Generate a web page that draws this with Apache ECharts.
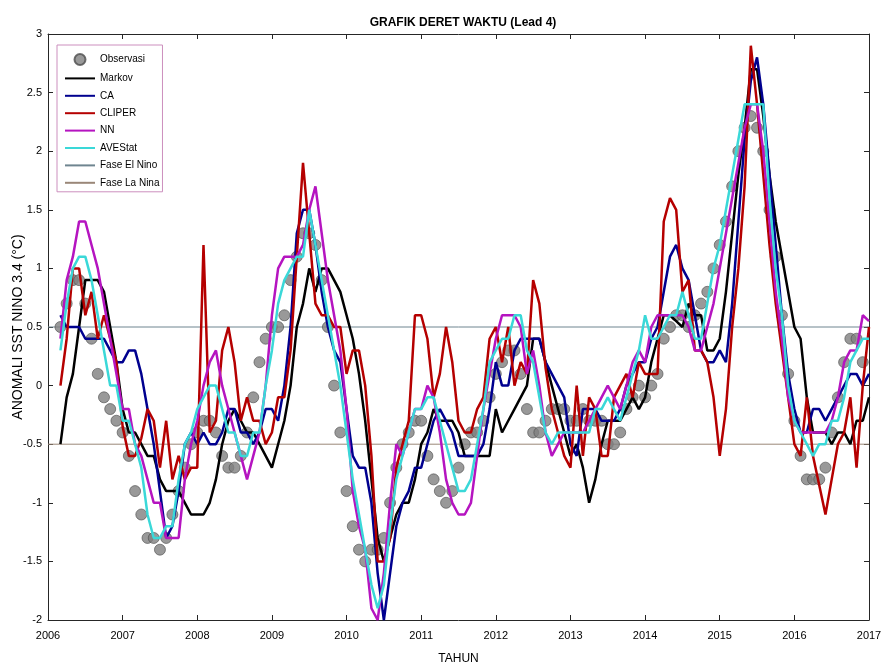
<!DOCTYPE html>
<html>
<head>
<meta charset="utf-8">
<script src="https://cdn.jsdelivr.net/npm/echarts@6/dist/echarts.min.js"></script>
<style>
html,body{margin:0;padding:0;background:#fff;}
#chart{width:881px;height:670px;}
</style>
</head>
<body>
<div id="chart"></div>
<script>
// Monthly series starting March 2006
const startYear = 2006;
const startMonth = 3;

const observasi = [
 0.5, 0.7, 0.9, 0.9, 0.7, 0.4, 0.1, -0.1, -0.2, -0.3,
 -0.4, -0.6, -0.9, -1.1, -1.3, -1.3, -1.4, -1.3, -1.1, -0.9,
 -0.7, -0.5, -0.4, -0.3, -0.3, -0.4, -0.6, -0.7, -0.7, -0.6,
 -0.4, -0.1, 0.2, 0.4, 0.5, 0.5, 0.6, 0.9, 1.1, 1.3,
 1.3, 1.2, 0.9, 0.5, 0.0, -0.4, -0.9, -1.2, -1.4, -1.5,
 -1.4, -1.4, -1.3, -1.0, -0.7, -0.5, -0.4, -0.3, -0.3, -0.6,
 -0.8, -0.9, -1.0, -0.9, -0.7, -0.5, -0.4, -0.4, -0.3, -0.1,
 0.1, 0.2, 0.3, 0.3, 0.1, -0.2, -0.4, -0.4, -0.3, -0.2,
 -0.2, -0.2, -0.3, -0.3, -0.2, -0.3, -0.3, -0.3, -0.5, -0.5,
 -0.4, -0.2, -0.1, 0.0, -0.1, 0.0, 0.1, 0.4, 0.5, 0.6,
 0.6, 0.5, 0.6, 0.7, 0.8, 1.0, 1.2, 1.4, 1.7, 2.0,
 2.2, 2.3, 2.2, 2.0, 1.5, 1.1, 0.6, 0.1, -0.3, -0.6,
 -0.8, -0.8, -0.8, -0.7, -0.4, -0.1, 0.2, 0.4, 0.4, 0.2,
 null
];

const markov = [
 -0.5, -0.1, 0.1, 0.5, 0.9, 0.9, 0.9, 0.8, 0.5, 0.2,
 -0.2, -0.4, -0.4, -0.5, -0.6, -0.6, -0.8, -0.9, -0.9, -0.9,
 -1.0, -1.1, -1.1, -1.1, -1.0, -0.8, -0.5, -0.3, -0.2, -0.3,
 -0.4, -0.4, -0.5, -0.6, -0.7, -0.5, -0.3, 0.0, 0.5, 0.7,
 1.0, 0.8, 1.0, 1.0, 0.9, 0.8, 0.6, 0.4, 0.1, -0.3,
 -0.8, -1.3, -1.5, -1.3, -1.1, -1.0, -1.0, -0.8, -0.5, -0.4,
 -0.2, -0.3, -0.3, -0.3, -0.4, -0.6, -0.6, -0.6, -0.6, -0.6,
 -0.2, -0.4, -0.3, -0.2, -0.1, 0.0, 0.4, 0.4, 0.2, 0.0,
 -0.2, -0.4, -0.6, -0.5, -0.7, -1.0, -0.8, -0.5, -0.3, -0.3,
 -0.3, -0.2, -0.1, -0.2, -0.1, 0.2, 0.4, 0.6, 0.6, 0.55,
 0.5, 0.7, 0.6, 0.6, 0.3, 0.3, 0.4, 0.8, 1.3, 1.8,
 2.2, 2.7, 2.7, 2.3, 1.8, 1.4, 1.1, 0.8, 0.5, 0.4,
 -0.1, -0.4, -0.4, -0.4, -0.5, -0.4, -0.4, -0.5, -0.3, -0.3,
 -0.1
];

const ca = [
 0.6, 0.5, 0.5, 0.5, 0.4, 0.4, 0.4, 0.4, 0.3, 0.2,
 0.2, 0.3, 0.3, 0.1, -0.2, -0.5, -0.9, -1.3, -1.2, -0.9,
 -0.5, -0.4, -0.5, -0.4, -0.5, -0.5, -0.4, -0.2, -0.2, -0.4,
 -0.4, -0.5, -0.4, -0.2, -0.2, -0.3, 0.0, 0.5, 1.3, 1.5,
 1.5, 1.2, 0.8, 0.5, 0.3, 0.2, -0.2, -0.6, -0.7, -0.7,
 -1.0, -1.6, -2.0, -1.6, -1.2, -1.0, -0.9, -0.7, -0.7, -0.5,
 -0.3, -0.2, -0.3, -0.4, -0.6, -0.6, -0.6, -0.6, -0.5, -0.2,
 0.2, 0.0, 0.0, 0.3, 0.4, 0.4, 0.4, 0.4, 0.2, 0.1,
 0.0, -0.1, -0.5, -0.6, -0.2, -0.2, -0.2, -0.3, -0.3, -0.3,
 -0.2, 0.0, 0.1, 0.2, 0.2, 0.4, 0.5, 0.8, 1.1, 1.2,
 1.0, 0.9, 0.6, 0.3, 0.2, 0.2, 0.3, 0.2, 0.7, 1.4,
 2.1, 2.6, 2.8, 2.4, 1.8, 1.2, 0.6, 0.1, -0.2, -0.4,
 -0.4, -0.2, -0.2, -0.3, -0.2, -0.1, 0.0, 0.1, 0.1, 0.0,
 0.1
];

const cliper = [
 0.0, 0.4, 1.0, 1.0, 0.6, 0.8, 0.4, 0.6, 0.4, 0.2,
 -0.35, -0.6, -0.6, -0.45, -0.2, -0.3, -0.7, -0.3, -0.8, -0.6,
 -0.8, -0.7, -0.7, 1.2, -0.4, -0.3, 0.3, 0.5, 0.2, -0.3,
 -0.1, -0.3, -0.3, -0.5, -0.4, -0.1, -0.1, 0.3, 1.1, 1.9,
 1.3, 0.7, 0.6, 0.6, 0.5, 0.5, 0.1, 0.3, 0.3, 0.0,
 -0.6, -1.5, -1.5, -1.3, -0.7, -0.5, -0.3, 0.6, 0.6, 0.4,
 -0.1, 0.1, 0.5, 0.2, -0.3, -0.4, -0.4, -0.2, -0.1, 0.4,
 0.5, 0.2, 0.5, 0.0, 0.2, 0.1, 0.9, 0.7, 0.15, -0.2,
 -0.4, -0.6, -0.7, 0.0, -0.6, -0.1, -0.2, -0.6, -0.6, -0.1,
 0.0, 0.1, -0.1, 0.2, 0.1, 0.1, 0.1, 1.4, 1.6, 1.5,
 0.8, 0.9, 0.3, 0.3, 0.2, -0.1, -0.6, -0.2, 0.5, 1.0,
 1.7, 2.9, 2.4, 1.8, 1.2, 0.7, 0.3, -0.1, -0.5, -0.6,
 -0.1, -0.6, -0.85, -1.1, -0.8, -0.5, -0.4, -0.1, -0.7, 0.0,
 0.5
];

const nn = [
 0.4, 0.9, 1.1, 1.4, 1.4, 1.2, 1.0, 0.7, 0.4, 0.1,
 -0.2, -0.2, -0.5, -0.6, -0.8, -1.0, -1.0, -1.3, -1.3, -1.3,
 -0.8, -0.5, -0.3, 0.0, 0.2, 0.3, 0.0, -0.2, -0.4, -0.6,
 -0.8, -0.6, -0.4, 0.0, 0.6, 1.0, 1.1, 1.1, 1.1, 1.2,
 1.5, 1.7, 1.3, 0.9, 0.6, 0.3, -0.2, -0.9, -1.2, -1.4,
 -1.9, -2.0, -1.6, -1.0, -0.5, -0.6, -0.4, -0.2, -0.2, 0.0,
 -0.1, -0.4, -0.8, -1.0, -1.1, -1.1, -1.0, -0.6, -0.2, 0.1,
 0.4, 0.6, 0.6, 0.6, 0.5, 0.1, 0.3, 0.0, -0.4, -0.6,
 -0.5, -0.4, -0.4, -0.4, -0.4, -0.3, -0.2, -0.1, 0.0, -0.1,
 -0.2, 0.0, 0.2, 0.3, 0.2, 0.5, 0.6, 0.6, 0.6, 0.6,
 0.6, 0.5, 0.3, 0.3, 0.5, 0.7, 1.0, 1.3, 1.6, 1.9,
 2.2, 2.4, 2.4, 2.0, 1.4, 0.8, 0.4, -0.1, -0.3, -0.4,
 -0.4, -0.4, -0.4, -0.4, -0.3, -0.1, 0.2, 0.3, 0.3, 0.6,
 0.55
];

const avestat = [
 0.3, 0.7, 1.0, 1.1, 1.1, 0.9, 0.6, 0.3, 0.0, 0.0,
 -0.3, -0.3, -0.5, -0.7, -1.1, -1.3, -1.3, -1.2, -1.2, -0.8,
 -0.5, -0.4, -0.2, -0.1, 0.0, 0.0, -0.2, -0.4, -0.4, -0.6,
 -0.6, -0.4, -0.4, 0.0, 0.3, 0.7, 0.9, 1.0, 1.1, 1.1,
 1.5, 1.2, 0.9, 0.6, 0.3, 0.0, -0.4, -0.8, -1.1, -1.4,
 -1.7, -1.9, -1.7, -1.2, -0.8, -0.6, -0.4, -0.2, -0.2, -0.1,
 -0.1, -0.3, -0.5, -0.7, -0.9, -0.9, -0.8, -0.5, -0.2, 0.2,
 0.3, 0.4, 0.4, 0.6, 0.6, 0.3, 0.2, -0.1, -0.4, -0.5,
 -0.4, -0.4, -0.4, -0.4, -0.4, -0.4, -0.2, -0.2, -0.1, -0.2,
 -0.3, -0.1, 0.1, 0.3, 0.6, 0.4, 0.4, 0.5, 0.6, 0.6,
 0.8, 0.6, 0.4, 0.4, 0.7, 1.0, 1.2, 1.5, 1.8, 2.1,
 2.4, 2.4, 2.4, 2.4, 1.6, 1.0, 0.6, 0.0, -0.3, -0.4,
 -0.5, -0.6, -0.5, -0.5, -0.3, -0.3, -0.1, 0.2, 0.3, 0.4,
 0.4
];

const elNinoThreshold = 0.5;
const laNinaThreshold = -0.5;
const xTicks = {min: 2006, max: 2017, step: 1};
const yTicks = {min: -2, max: 3, step: 0.5};

function toDecimalYear(i) {
  return startYear + (startMonth - 1 + i) / 12;
}
function pairs(arr) {
  return arr.map((v, i) => [toDecimalYear(i), v]);
}

const sans = "'Liberation Sans', Arial, sans-serif";
const chart = echarts.init(document.getElementById('chart'), null, {renderer: 'canvas'});

const axisLine = {show: true, onZero: false, lineStyle: {color: '#262626', width: 1}};
const tick = {show: true, inside: true, length: 5, lineStyle: {color: '#262626'}};
const hideSymbol = {opacity: 0};

const option = {
  animation: false,
  backgroundColor: '#ffffff',
  title: {
    text: 'GRAFIK DERET WAKTU (Lead 4)',
    left: 458, top: 12, textAlign: 'center',
    textStyle: {fontFamily: sans, fontSize: 12, fontWeight: 'bold', color: '#000'}
  },
  grid: {left: 48, right: 12, top: 34, bottom: 50, containLabel: false, outerBoundsMode: 'none'},
  legend: {
    orient: 'vertical', left: 57, top: 45,
    padding: [8, 3, 4, 7],
    itemWidth: 30, itemHeight: 11, itemGap: 7.4,
    backgroundColor: '#fff', borderColor: '#cc8fbe', borderWidth: 1,
    textStyle: {fontFamily: sans, fontSize: 10, color: '#000'},
    data: [
      {name: 'Observasi', icon: 'circle'},
      {name: 'Markov', itemStyle: hideSymbol},
      {name: 'CA', itemStyle: hideSymbol},
      {name: 'CLIPER', itemStyle: hideSymbol},
      {name: 'NN', itemStyle: hideSymbol},
      {name: 'AVEStat', itemStyle: hideSymbol},
      {name: 'Fase El Nino', itemStyle: hideSymbol},
      {name: 'Fase La Nina', itemStyle: hideSymbol}
    ]
  },
  xAxis: [{
    type: 'value', min: xTicks.min, max: xTicks.max, interval: xTicks.step,
    name: 'TAHUN', nameLocation: 'middle', nameGap: 33, nameMoveOverlap: false,
    nameTextStyle: {fontFamily: sans, fontSize: 12, color: '#000', verticalAlign: 'top'},
    axisLine: axisLine, axisTick: tick, splitLine: {show: false},
    axisLabel: {fontFamily: sans, fontSize: 11, color: '#000', margin: 10,
      formatter: function (v) { return String(Math.round(v)); }}
  }, {
    type: 'value', position: 'top', min: xTicks.min, max: xTicks.max, interval: xTicks.step,
    axisLine: axisLine, axisTick: tick, splitLine: {show: false}, axisLabel: {show: false}
  }],
  yAxis: [{
    type: 'value', min: yTicks.min, max: yTicks.max, interval: yTicks.step,
    name: 'ANOMALI SST NINO 3.4 (°C)', nameLocation: 'middle', nameGap: 23, nameMoveOverlap: false,
    nameTextStyle: {fontFamily: sans, fontSize: 14, color: '#000'},
    axisLine: axisLine, axisTick: tick, splitLine: {show: false},
    axisLabel: {fontFamily: sans, fontSize: 11, color: '#000', margin: 6}
  }, {
    type: 'value', position: 'right', min: yTicks.min, max: yTicks.max, interval: yTicks.step,
    axisLine: axisLine, axisTick: tick, splitLine: {show: false}, axisLabel: {show: false}
  }],
  series: [
    {name: 'Observasi', type: 'scatter', data: pairs(observasi), symbol: 'circle', symbolSize: 11,
     itemStyle: {color: '#7f7f7f', borderColor: '#4d4d4d', borderWidth: 0.8}, z: 1},
    {name: 'Markov', type: 'line', data: pairs(markov), symbol: 'none', lineStyle: {color: '#000000', width: 2.5}, itemStyle: {color: '#000000'}, z: 2},
    {name: 'CA', type: 'line', data: pairs(ca), symbol: 'none', lineStyle: {color: '#00008f', width: 2.5}, itemStyle: {color: '#00008f'}, z: 2},
    {name: 'CLIPER', type: 'line', data: pairs(cliper), symbol: 'none', lineStyle: {color: '#b50000', width: 2.5}, itemStyle: {color: '#b50000'}, z: 2},
    {name: 'NN', type: 'line', data: pairs(nn), symbol: 'none', lineStyle: {color: '#b514c0', width: 2.5}, itemStyle: {color: '#b514c0'}, z: 2},
    {name: 'AVEStat', type: 'line', data: pairs(avestat), symbol: 'none', lineStyle: {color: '#3ad8d8', width: 2.5}, itemStyle: {color: '#3ad8d8'}, z: 3},
    {name: 'Fase El Nino', type: 'line', data: [[xTicks.min, elNinoThreshold], [xTicks.max, elNinoThreshold]], symbol: 'none',
     lineStyle: {color: '#6f8590', width: 1}, itemStyle: {color: '#2a3a4a'}, z: 1},
    {name: 'Fase La Nina', type: 'line', data: [[xTicks.min, laNinaThreshold], [xTicks.max, laNinaThreshold]], symbol: 'none',
     lineStyle: {color: '#9a8778', width: 1}, itemStyle: {color: '#7a5a40'}, z: 1}
  ]
};
chart.setOption(option);
</script>
</body>
</html>
